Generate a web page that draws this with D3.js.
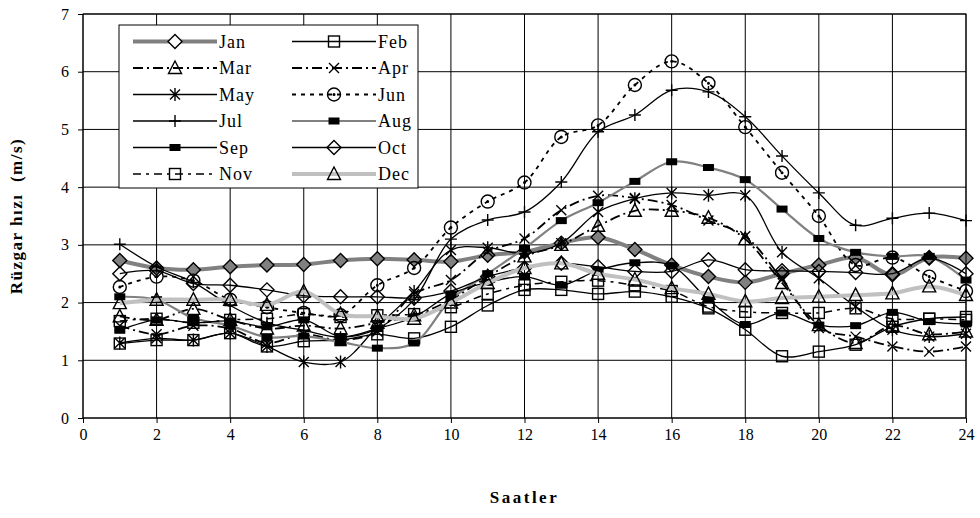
<!DOCTYPE html>
<html>
<head>
<meta charset="utf-8">
<script src="https://cdn.jsdelivr.net/npm/d3@7"></script>
<style>
  body { margin: 0; background: #fff; }
  svg text { font-family: "Liberation Serif", "Times New Roman", serif; }
</style>
</head>
<body>
<div id="chart"></div>
<script>
// hours on the x axis
const hours = d3.range(1, 25);
const xTicks = d3.range(0, 25, 2);
const yTicks = d3.range(0, 8, 1);

// monthly hourly mean wind speed (m/s)
const jan = [2.73, 2.6, 2.57, 2.62, 2.65, 2.66, 2.73, 2.76, 2.74, 2.71, 2.82, 2.88, 3.03, 3.13, 2.92, 2.65, 2.45, 2.35, 2.5, 2.65, 2.78, 2.48, 2.78, 2.77];
const feb = [1.29, 1.35, 1.35, 1.47, 1.24, 1.33, 1.35, 1.45, 1.38, 1.58, 1.95, 2.22, 2.22, 2.15, 2.19, 2.1, 1.9, 1.53, 1.07, 1.15, 1.27, 1.58, 1.72, 1.75];
const mar = [1.76, 1.7, 1.89, 1.7, 1.55, 1.6, 1.55, 1.65, 1.78, 2.05, 2.45, 2.8, 3.0, 3.33, 3.59, 3.59, 3.47, 3.1, 2.34, 1.61, 1.3, 1.6, 1.45, 1.5];
const apr = [1.6, 1.45, 1.6, 1.55, 1.3, 1.45, 1.35, 1.5, 2.15, 2.39, 2.88, 3.11, 3.6, 3.85, 3.81, 3.69, 3.42, 3.15, 2.4, 1.56, 1.41, 1.24, 1.15, 1.24];
const may = [1.3, 1.38, 1.35, 1.47, 1.24, 0.97, 0.97, 1.58, 2.19, 2.91, 2.95, 2.85, 3.03, 3.57, 3.8, 3.9, 3.86, 3.86, 2.87, 2.42, 1.93, 1.53, 1.41, 1.46];
const jun = [2.27, 2.45, 2.38, 2.05, 1.92, 1.82, 1.78, 2.3, 2.6, 3.3, 3.75, 4.08, 4.87, 5.07, 5.77, 6.18, 5.8, 5.04, 4.25, 3.5, 2.65, 2.78, 2.45, 2.2];
const jul = [3.01, 2.62, 2.35, 1.95, 1.65, 1.52, 1.4, 1.55, 2.05, 3.1, 3.43, 3.57, 4.09, 4.96, 5.25, 5.68, 5.65, 5.22, 4.54, 3.9, 3.34, 3.46, 3.55, 3.42];
const aug = [2.1, 2.05, 1.73, 1.6, 1.4, 1.42, 1.32, 1.21, 1.3, 2.05, 2.5, 2.94, 3.42, 3.73, 4.1, 4.44, 4.34, 4.13, 3.62, 3.11, 2.87, 2.8, 2.8, 2.39];
const sep = [1.52, 1.7, 1.65, 1.68, 1.58, 1.7, 1.41, 1.55, 1.75, 2.15, 2.35, 2.45, 2.3, 2.56, 2.69, 2.64, 2.05, 1.62, 1.82, 1.61, 1.6, 1.83, 1.67, 1.63];
const oct = [2.5, 2.55, 2.33, 2.3, 2.22, 2.12, 2.1, 2.1, 2.08, 2.2, 2.45, 2.6, 2.68, 2.62, 2.54, 2.54, 2.74, 2.57, 2.55, 2.54, 2.52, 2.5, 2.77, 2.5];
const nov = [1.68, 1.72, 1.65, 1.7, 1.72, 1.8, 1.75, 1.78, 1.8, 1.92, 2.15, 2.3, 2.36, 2.38, 2.3, 2.2, 1.93, 1.84, 1.82, 1.82, 1.9, 1.72, 1.72, 1.7];
const dec = [1.99, 2.05, 2.05, 2.05, 1.96, 2.19, 1.8, 1.76, 1.72, 2.0, 2.34, 2.6, 2.68, 2.5, 2.4, 2.25, 2.15, 2.02, 2.08, 2.1, 2.13, 2.16, 2.28, 2.13];

const months = ["Jan", "Feb", "Mar", "Apr", "May", "Jun", "Jul", "Aug", "Sep", "Oct", "Nov", "Dec"];
const values = [jan, feb, mar, apr, may, jun, jul, aug, sep, oct, nov, dec];

// line + marker look for each month
const styles = {
  Jan: { stroke: "#808080", width: 4, dash: null, marker: "diamond", fill: "#808080" },
  Feb: { stroke: "#000", width: 1.3, dash: null, marker: "square", fill: "none" },
  Mar: { stroke: "#000", width: 1.8, dash: "10,4,2,4", marker: "triangle", fill: "none" },
  Apr: { stroke: "#000", width: 1.8, dash: "10,4,2,4", marker: "cross", fill: "none" },
  May: { stroke: "#000", width: 1.3, dash: null, marker: "star", fill: "none" },
  Jun: { stroke: "#000", width: 1.8, dash: "4,5", marker: "circle", fill: "none" },
  Jul: { stroke: "#000", width: 1.3, dash: null, marker: "plus", fill: "none" },
  Aug: { stroke: "#808080", width: 2.2, dash: null, marker: "rect", fill: "#000" },
  Sep: { stroke: "#000", width: 1.3, dash: null, marker: "rect", fill: "#000" },
  Oct: { stroke: "#000", width: 1.3, dash: null, marker: "diamond", fill: "none" },
  Nov: { stroke: "#000", width: 1.5, dash: "8,5,3,5", marker: "square", fill: "none" },
  Dec: { stroke: "#c0c0c0", width: 4, dash: null, marker: "triangle", fill: "none" }
};

function drawMarker(g, type, fill, cx, cy) {
  const m = g.append("g").attr("transform", `translate(${cx},${cy})`)
    .attr("stroke", "#000").attr("stroke-width", 1.4).attr("fill", fill);
  if (type === "diamond") {
    m.append("path").attr("d", "M0,-7L7,0L0,7L-7,0Z");
  } else if (type === "square") {
    m.append("rect").attr("x", -5.5).attr("y", -5.5).attr("width", 11).attr("height", 11);
  } else if (type === "triangle") {
    m.append("path").attr("d", "M0,-7L6.5,5.5L-6.5,5.5Z");
  } else if (type === "cross") {
    m.append("path").attr("d", "M-5,-5L5,5M-5,5L5,-5");
  } else if (type === "star") {
    m.append("path").attr("d", "M-5,-5L5,5M-5,5L5,-5M0,-6.5L0,6.5");
  } else if (type === "plus") {
    m.append("path").attr("d", "M-6,0L6,0M0,-6L0,6");
  } else if (type === "circle") {
    m.append("circle").attr("r", 6.5);
    m.append("circle").attr("r", 0.8).attr("fill", "#000");
  } else if (type === "rect") {
    m.append("rect").attr("x", -5.5).attr("y", -3.5).attr("width", 11).attr("height", 7).attr("stroke", "none");
  }
}

const width = 980, height = 518;
const margin = { top: 14, right: 14, bottom: 100, left: 83 };

const svg = d3.select("#chart").append("svg")
  .attr("width", width).attr("height", height);

const x = d3.scaleLinear().domain([0, 24]).range([margin.left, width - margin.right]);
const y = d3.scaleLinear().domain([0, 7]).range([height - margin.bottom, margin.top]);

// gridlines
svg.append("g").selectAll("line").data(yTicks).join("line")
  .attr("x1", x(0)).attr("x2", x(24))
  .attr("y1", d => y(d)).attr("y2", d => y(d))
  .attr("stroke", "#000").attr("stroke-width", 1);
svg.append("g").selectAll("line").data(xTicks).join("line")
  .attr("x1", d => x(d)).attr("x2", d => x(d))
  .attr("y1", y(0)).attr("y2", y(7))
  .attr("stroke", "#000").attr("stroke-width", 1);

// axes
const xAxis = svg.append("g")
  .attr("transform", `translate(0,${y(0)})`)
  .call(d3.axisBottom(x).tickValues(xTicks).tickFormat(d3.format("d")).tickSize(5).tickPadding(6));
const yAxis = svg.append("g")
  .attr("transform", `translate(${x(0)},0)`)
  .call(d3.axisLeft(y).tickValues(yTicks).tickFormat(d3.format("d")).tickSize(5).tickPadding(9));
[xAxis, yAxis].forEach(a => {
  a.attr("font-family", null);
  a.select(".domain").remove();
  a.selectAll("text").attr("font-size", 16).attr("fill", "#000");
});

// series
const line = d3.line()
  .x((d, i) => x(hours[i]))
  .y(d => y(d))
  .curve(d3.curveCatmullRom.alpha(0.5));

months.forEach((m, k) => {
  const s = styles[m];
  const g = svg.append("g");
  g.append("path").datum(values[k])
    .attr("d", line)
    .attr("fill", "none")
    .attr("stroke", s.stroke)
    .attr("stroke-width", s.width)
    .attr("stroke-dasharray", s.dash);
  values[k].forEach((v, i) => drawMarker(g, s.marker, s.fill, x(hours[i]), y(v)));
});

// plot frame
svg.append("rect")
  .attr("x", x(0)).attr("y", y(7))
  .attr("width", x(24) - x(0)).attr("height", y(0) - y(7))
  .attr("fill", "none").attr("stroke", "#000");

// legend
const legend = svg.append("g");
legend.append("rect")
  .attr("x", 119).attr("y", 25).attr("width", 299).attr("height", 163)
  .attr("fill", "#fff").attr("stroke", "#000");
months.forEach((m, k) => {
  const s = styles[m];
  const col = k % 2, row = Math.floor(k / 2);
  const lx = col === 0 ? 133 : 292;
  const ly = 41.5 + row * 26.5;
  legend.append("line")
    .attr("x1", lx).attr("x2", lx + 84).attr("y1", ly).attr("y2", ly)
    .attr("stroke", s.stroke).attr("stroke-width", s.width)
    .attr("stroke-dasharray", s.dash);
  drawMarker(legend, s.marker, s.fill === "#808080" ? "#fff" : s.fill, lx + 42, ly);
  legend.append("text")
    .attr("x", lx + 86).attr("y", ly).attr("dy", "0.35em")
    .attr("font-size", 18).attr("letter-spacing", 1)
    .text(m);
});

// axis titles
svg.append("text")
  .attr("transform", `translate(22,${(y(0) + y(7)) / 2}) rotate(-90)`)
  .attr("text-anchor", "middle")
  .attr("font-size", 17).attr("font-weight", "bold").attr("letter-spacing", 1.5)
  .attr("xml:space", "preserve")
  .text("Rüzgar hızı  (m/s)");
svg.append("text")
  .attr("x", (x(0) + x(24)) / 2).attr("y", 503)
  .attr("text-anchor", "middle")
  .attr("font-size", 17).attr("font-weight", "bold").attr("letter-spacing", 2.5)
  .text("Saatler");
</script>
</body>
</html>
